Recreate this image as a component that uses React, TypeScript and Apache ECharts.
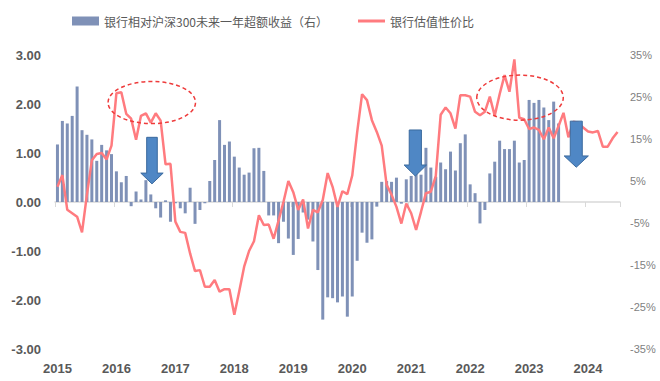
import React, { useEffect, useRef } from 'react';
import * as echarts from 'echarts';

// ---- categories (monthly, 2015-01 .. 2024-07) ----
const years = [2015, 2016, 2017, 2018, 2019, 2020, 2021, 2022, 2023, 2024];
const lastYearMonths = 7;
const months: string[] = [];
years.forEach((y) => {
  const n = y === 2024 ? lastYearMonths : 12;
  for (let m = 1; m <= n; m++) months.push(`${y}-${String(m).padStart(2, '0')}`);
});

// ---- series: bank excess return vs CSI300 over next year (%, right axis) ----
const excessReturn = [
  13.7, 19.3, 18.7, 20.5, 27.5, 17.1, 16.0, 14.9, 9.8, 13.6, 12.3, 11.4,
  7.3, 4.7, 6.2, -1.0, 2.5, 0.6, 5.2, 1.8, -1.5, -3.7, 0.4, -4.7,
  -0.3, -1.5, -2.7, 3.4, -5.2, -1.9, -0.3, 5.0, 10.0, 19.5, 13.6, 14.4,
  10.8, 8.2, 6.5, 7.0, 12.8, 12.9, 7.4, -3.2, -3.2, -9.8, -4.7, -8.7,
  -12.6, -8.8, -2.5, -4.2, -9.4, -16.2, -28.0, -22.7, -22.9, -23.9, -22.5, -27.3,
  -22.5, -14.0, -7.3, -9.7, -8.9, -1.1, 4.8, 5.0, 4.8, 5.8, -0.4, 5.4,
  6.2, 6.8, 6.5, 12.9, 8.2, 6.0, 9.4, 7.8, 12.0, 7.5, 14.0, 16.1,
  4.2, 2.1, -5.1, -1.9, 6.8, 9.6, 14.6, 12.6, 12.6, 14.6, 9.4, 10.0,
  24.3, 23.6, 24.3, 22.5, 19.5, 23.9, 18.7,
];

// ---- series: bank valuation attractiveness (left axis) ----
const valueRatio = [
  0.31, 0.55, -0.16, -0.23, -0.30, -0.62, 0.15, 0.85, 0.98, 1.0, 0.87, 1.15,
  2.22, 2.24, 1.80, 1.70, 1.27, 1.76, 1.81, 1.62, 1.81, 1.66, 0.77, 0.78,
  -0.40, -0.61, -0.63, -1.05, -1.41, -1.39, -1.73, -1.73, -1.59, -1.83, -1.78, -1.78,
  -2.30, -1.82, -1.32, -1.0, -0.8, -0.27, -0.47, -0.46, -0.75, -0.38, 0.0, 0.43,
  0.2, -0.16, 0.05, -0.54, -0.16, -0.21, 0.04, 0.59, 0.31, -0.1, 0.22, 0.16,
  0.54, 1.42, 2.2, 2.08, 1.67, 1.43, 1.15, 0.35, 0.15, -0.1, -0.44, -0.03,
  -0.23, -0.57, -0.2, 0.18, 0.21, 0.53, 1.78, 1.93, 1.81, 1.50, 2.18, 2.18,
  2.15, 1.84, 1.77, 1.84, 2.15, 1.76, 2.2, 2.59, 2.25, 2.91, 1.72, 1.69,
  1.49, 1.52, 1.47, 1.28, 1.52, 1.30, 1.55, 1.82, 1.32, 1.64, 1.62, 1.52,
  1.44, 1.42, 1.45, 1.13, 1.13, 1.30, 1.43,
];

const barName = '银行相对沪深300未来一年超额收益（右）';
const lineName = '银行估值性价比';

// annotations in data units (month index, left-axis value)
const ellipseMarks = [
  { i: 19.2, v: 2.03, rxM: 8.9, ryV: 0.43 },
  { i: 94.15, v: 2.13, rxM: 8.8, ryV: 0.46 },
];
const arrowMarks = [
  { i: 19.24, top: 1.32, neck: 0.59, tip: 0.37, shaftM: 1.08, headM: 2.28 },
  { i: 72.84, top: 1.47, neck: 0.755, tip: 0.53, shaftM: 1.24, headM: 2.28 },
  { i: 105.6, top: 1.65, neck: 0.94, tip: 0.71, shaftM: 1.22, headM: 2.46 },
];

const W = 660;
const H = 381;

export default function App() {
  const ref = useRef<HTMLDivElement>(null);
  useEffect(() => {
    if (!ref.current) return;
    const chart = echarts.init(ref.current, undefined, { renderer: 'svg', width: W, height: H });
    const tickEveryYear = (i: number) => i % 12 === 0;
    chart.setOption({
      animation: false,
      backgroundColor: '#ffffff',
      textStyle: { fontFamily: '"Liberation Sans", Arial, sans-serif' },
      legend: {
        top: 10,
        left: 67,
        itemGap: 30,
        itemWidth: 27,
        itemHeight: 9,
        textStyle: { fontFamily: '"Noto Sans CJK SC", sans-serif', fontSize: 12, color: '#595959' },
        data: [
          { name: barName, icon: 'rect' },
          { name: lineName, icon: 'path://M0,0H27V3H0Z' },
        ],
      },
      grid: { left: 55, right: W - 620, top: 55, bottom: 32, containLabel: false, outerBoundsMode: 'none' },
      xAxis: [
        {
          type: 'category',
          data: months,
          boundaryGap: true,
          position: 'bottom',
          axisLine: { show: false, onZero: false },
          axisTick: { show: false },
          splitLine: { show: false },
          axisLabel: {
            interval: (i: number) => tickEveryYear(i),
            formatter: (v: string) => v.slice(0, 4),
            margin: 13,
            fontSize: 13,
            fontWeight: 'bold',
            color: '#595959',
          },
        },
        {
          type: 'category',
          data: months,
          boundaryGap: true,
          position: 'bottom',
          axisLine: { show: true, onZero: true, onZeroAxisIndex: 0, lineStyle: { color: '#D9D9D9', width: 1.5 } },
          axisTick: { show: true, interval: (i: number) => tickEveryYear(i), length: 5, lineStyle: { color: '#D9D9D9' } },
          axisLabel: { show: false },
          splitLine: { show: false },
        },
      ],
      yAxis: [
        {
          type: 'value',
          min: -3,
          max: 3,
          interval: 1,
          position: 'left',
          axisLine: { show: false },
          axisTick: { show: false },
          splitLine: { show: false },
          axisLabel: {
            formatter: (v: number) => v.toFixed(2),
            margin: 14,
            fontSize: 13,
            fontWeight: 'bold',
            color: '#595959',
          },
        },
        {
          type: 'value',
          min: -35,
          max: 35,
          interval: 5,
          position: 'right',
          axisLine: { show: false },
          axisTick: { show: false },
          splitLine: { show: false },
          axisLabel: {
            formatter: (v: number) => (v % 10 === 0 ? '' : `${v}%`),
            margin: 10,
            fontSize: 11,
            color: '#7F7F7F',
          },
        },
      ],
      series: [
        {
          name: barName,
          type: 'bar',
          xAxisIndex: 0,
          yAxisIndex: 1,
          data: excessReturn,
          barWidth: 3,
          itemStyle: { color: '#7F91B7' },
          z: 2,
        },
        {
          name: lineName,
          type: 'line',
          xAxisIndex: 0,
          yAxisIndex: 0,
          data: valueRatio,
          symbol: 'none',
          lineStyle: { color: '#FF7B7F', width: 2.5 },
          itemStyle: { color: '#FF7B7F' },
          z: 3,
        },
      ],
    });

    const x0 = chart.convertToPixel({ xAxisIndex: 0 }, 0) as number;
    const x1 = chart.convertToPixel({ xAxisIndex: 0 }, 1) as number;
    const step = x1 - x0;
    const px = (i: number) => x0 + i * step;
    const py = (v: number) => chart.convertToPixel({ yAxisIndex: 0 }, v) as number;
    const unitY = Math.abs(py(1) - py(0));

    const graphics: any[] = [];
    ellipseMarks.forEach((e) => {
      graphics.push({
        type: 'ellipse',
        z: 100,
        shape: { cx: px(e.i), cy: py(e.v), rx: e.rxM * step, ry: e.ryV * unitY },
        style: { fill: 'none', stroke: '#EE3B3B', lineWidth: 1.5, lineDash: [4, 3] },
      });
    });
    arrowMarks.forEach((a) => {
      const cx = px(a.i);
      const sw = a.shaftM * step;
      const hw = a.headM * step;
      const yt = py(a.top);
      const yn = py(a.neck);
      const yp = py(a.tip);
      graphics.push({
        type: 'polygon',
        z: 100,
        shape: {
          points: [
            [cx - sw, yt],
            [cx + sw, yt],
            [cx + sw, yn],
            [cx + hw, yn],
            [cx, yp],
            [cx - hw, yn],
            [cx - sw, yn],
          ],
        },
        style: { fill: '#4F87C5', stroke: '#3B6A9E', lineWidth: 1 },
      });
    });
    chart.setOption({ graphic: graphics });

    return () => chart.dispose();
  }, []);
  return <div ref={ref} style={{ position: 'absolute', left: 0, top: 0, width: W, height: H }} />;
}
